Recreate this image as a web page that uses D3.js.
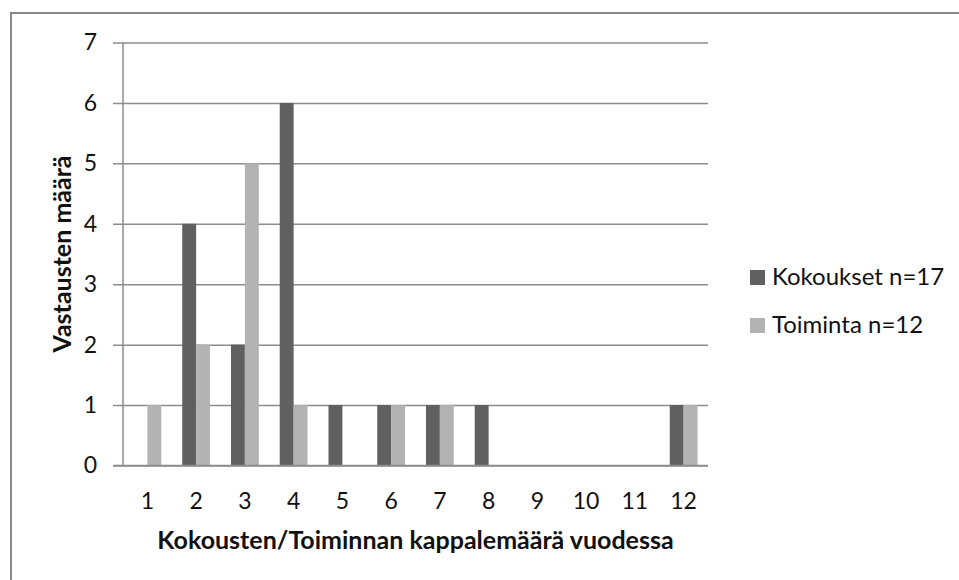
<!DOCTYPE html>
<html>
<head>
<meta charset="utf-8">
<script src="https://cdn.jsdelivr.net/npm/d3@7"></script>
<style>
  body { margin: 0; background: #fff; }
  svg { display: block; font-family: Lato, "Open Sans", sans-serif; }
</style>
</head>
<body>
<svg width="959" height="580"></svg>
<script>
// category labels on x axis
var categories = ["1", "2", "3", "4", "5", "6", "7", "8", "9", "10", "11", "12"];
var seriesNames = ["Kokoukset n=17", "Toiminta n=12"];
// values per category
var kokoukset = [0, 4, 2, 6, 1, 1, 1, 1, 0, 0, 0, 1];
var toiminta = [1, 2, 5, 1, 0, 1, 1, 0, 0, 0, 0, 1];
var yTicks = [0, 1, 2, 3, 4, 5, 6, 7];
var colors = ["#606060", "#b3b3b3"];

var svg = d3.select("svg");

// chart border (only top and left visible in the picture)
svg.append("path")
    .attr("d", "M11,580 V13 H959")
    .attr("fill", "none")
    .attr("stroke", "#8a8a8a")
    .attr("stroke-width", 2);

var plotLeft = 123, plotRight = 708, plotTop = 42.5, plotBottom = 465.5;

var x0 = d3.scaleBand()
    .domain(categories)
    .range([plotLeft, plotRight])
    .paddingInner(0.43)
    .paddingOuter(0.215);

var x1 = d3.scaleBand()
    .domain(seriesNames)
    .range([0, x0.bandwidth()]);

var y = d3.scaleLinear()
    .domain([0, 7])
    .range([plotBottom, plotTop]);

// gridlines + y ticks
var yAxis = d3.axisLeft(y)
    .tickValues(yTicks)
    .tickSize(-(plotRight - plotLeft))
    .tickPadding(26)
    .tickFormat(d3.format("d"));

var gy = svg.append("g")
    .attr("transform", "translate(" + plotLeft + ",0)")
    .call(yAxis);
gy.select(".domain").remove();
gy.selectAll(".tick line")
    .attr("x1", -10)
    .attr("stroke", "#8c8c8c")
    .attr("stroke-width", 1.5);
gy.selectAll(".tick text")
    .attr("font-size", 23)
    .attr("font-family", "Lato")
    .attr("fill", "#111");

// vertical axis line
svg.append("line")
    .attr("x1", plotLeft).attr("x2", plotLeft)
    .attr("y1", plotTop).attr("y2", plotBottom)
    .attr("stroke", "#8c8c8c")
    .attr("stroke-width", 1.5);

// bars
var rows = categories.map(function(c, i) {
    return {cat: c, values: [kokoukset[i], toiminta[i]]};
});

var group = svg.append("g").selectAll("g")
    .data(rows)
    .enter().append("g")
    .attr("transform", function(d) { return "translate(" + x0(d.cat) + ",0)"; });

group.selectAll("rect")
    .data(function(d) {
        return d.values.map(function(v, j) { return {name: seriesNames[j], value: v, idx: j}; });
    })
    .enter().append("rect")
    .attr("x", function(d) { return x1(d.name); })
    .attr("y", function(d) { return y(d.value); })
    .attr("width", x1.bandwidth())
    .attr("height", function(d) { return y(0) - y(d.value); })
    .attr("fill", function(d) { return colors[d.idx]; });

// x axis
var xAxis = d3.axisBottom(x0).tickSize(0).tickPadding(27);
var gx = svg.append("g")
    .attr("transform", "translate(0," + plotBottom + ")")
    .call(xAxis);
gx.select(".domain").remove();
gx.selectAll(".tick text")
    .attr("font-size", 23)
    .attr("font-family", "Lato")
    .attr("fill", "#111");

svg.append("line")
    .attr("x1", plotLeft - 10).attr("x2", plotRight)
    .attr("y1", plotBottom).attr("y2", plotBottom)
    .attr("stroke", "#8c8c8c")
    .attr("stroke-width", 1.5);

// axis titles
svg.append("text")
    .attr("x", (plotLeft + plotRight) / 2)
    .attr("y", 549)
    .attr("text-anchor", "middle")
    .attr("font-size", 25)
    .attr("font-weight", "bold")
    .attr("fill", "#111")
    .text("Kokousten/Toiminnan kappalemäärä vuodessa");

svg.append("text")
    .attr("transform", "translate(71," + (plotTop + plotBottom) / 2 + ") rotate(-90)")
    .attr("text-anchor", "middle")
    .attr("font-size", 25)
    .attr("font-weight", "bold")
    .attr("fill", "#111")
    .text("Vastausten määrä");

// legend
var legend = svg.append("g").selectAll("g")
    .data(seriesNames)
    .enter().append("g")
    .attr("transform", function(d, i) { return "translate(750," + (270 + i * 48) + ")"; });

legend.append("rect")
    .attr("width", 15)
    .attr("height", 15)
    .attr("fill", function(d, i) { return colors[i]; });

legend.append("text")
    .attr("x", 22)
    .attr("y", 15)
    .attr("font-size", 24)
    .attr("fill", "#111")
    .text(function(d) { return d; });
</script>
</body>
</html>
